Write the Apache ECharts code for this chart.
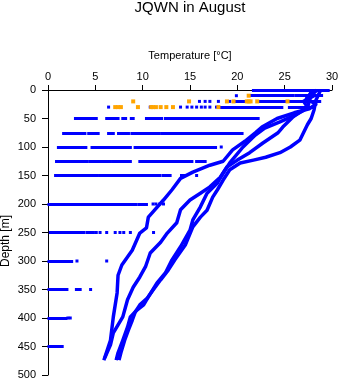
<!DOCTYPE html>
<html>
<head>
<meta charset="utf-8">
<script src="https://cdn.jsdelivr.net/npm/echarts@6/dist/echarts.min.js"></script>
<style>
html,body{margin:0;padding:0;background:#fff;}
#chart{width:341px;height:384px;}
</style>
</head>
<body>
<div id="chart"></div>
<script>
// ---- Data ----
const xTicks = [0, 5, 10, 15, 20, 25, 30];
const yTicks = [0, 50, 100, 150, 200, 250, 300, 350, 400, 450, 500];

// Standard-depth observation rows (depth in m)
const rowDepths = [0, 10, 20, 30, 50, 75, 100, 125, 150, 200, 250, 300, 350, 400, 450];
// Dense runs of observations at each row: [from °C, to °C]
const rowRuns = [
  [[21.7, 29.6]],
  [[21.4, 25.9], [26.2, 28.9]],
  [[19.9, 20.8], [22.2, 25.0], [25.4, 28.7]],
  [[18.2, 24.7], [25.5, 28.0]],
  [[2.9, 4.0], [4.2, 4.6], [4.8, 5.1], [6.2, 6.7], [6.9, 7.4], [7.9, 8.2], [8.8, 9.0], [10.4, 12.0], [12.4, 12.7], [12.9, 13.8], [14.1, 19.0], [19.2, 22.2]],
  [[1.65, 3.9], [4.3, 5.3], [6.4, 6.9], [7.45, 8.5], [8.86, 9.4], [9.6, 11.7], [12.0, 17.8], [18.1, 20.5]],
  [[1.1, 1.5], [1.65, 2.7], [2.95, 4.0], [4.65, 8.7], [9.2, 15.3], [15.5, 17.7]],
  [[0.9, 1.8], [2.0, 2.5], [2.7, 3.4], [3.6, 4.1], [4.4, 6.6], [6.9, 8.7], [9.7, 14.5], [14.7, 15.2], [15.7, 16.6]],
  [[0.8, 2.0], [2.1, 4.1], [4.3, 5.2], [5.45, 7.3], [7.55, 11.85], [12.2, 12.9]],
  [[0.1, 8.3], [8.6, 9.3], [9.6, 10.4]],
  [[0.25, 3.75], [4.1, 4.5]],
  [[0.1, 2.5]],
  [[0.1, 2.0], [3.0, 3.4]],
  [[0.1, 1.9]],
  [[0.1, 1.5]]
];
// Isolated observations at each row (°C)
const rowSingles = [
  [],
  [19.9],
  [16.0, 16.6, 17.1, 18.0, 19.2],
  [6.4, 10.8, 14.0, 14.7, 15.2, 15.7, 16.2, 16.6, 17.1, 17.8],
  [],
  [],
  [18.3],
  [],
  [14.1, 14.4, 15.7],
  [11.1, 11.4, 11.8, 12.2],
  [4.8, 5.1, 5.5, 6.2, 7.1, 7.6, 8.0, 8.7, 11.15],
  [3.06, 6.2],
  [4.5],
  [2.1, 2.35],
  []
];
// Orange (highlighted) observations
const orangeDepths = [10, 20, 30];
const orangeTemps = [
  [21.2],
  [9.0, 14.9, 18.9, 19.6, 21.0, 21.2, 21.4, 22.1, 25.3],
  [7.1, 7.4, 7.7, 9.5, 10.9, 11.1, 11.4, 11.9, 12.5, 13.2, 18.0]
];

// Continuous profiles
const depthA = [0, 15, 25, 33, 40, 50, 65, 75, 90, 105, 125, 132, 144, 155, 175, 193, 210, 223, 242, 251, 281, 307, 325, 356, 398, 439, 474];
const tempA  = [28.0, 27.3, 28.3, 27.6, 26.0, 24.2, 22.6, 21.9, 20.8, 19.5, 18.5, 17.1, 15.3, 14.0, 13.1, 12.2, 11.3, 10.6, 10.4, 9.7, 8.9, 7.8, 7.4, 7.3, 6.9, 6.6, 5.9];
const depthB = [0, 10, 20, 30, 47, 65, 75, 93, 110, 123, 135, 153, 170, 181, 193, 210, 233, 251, 267, 286, 310, 328, 346, 368, 398, 412, 426, 447, 470];
const tempB  = [27.6, 28.1, 27.0, 27.4, 25.9, 24.8, 24.3, 22.7, 21.3, 20.0, 18.9, 18.2, 17.1, 16.1, 15.0, 14.0, 13.6, 12.6, 11.9, 10.8, 10.3, 9.7, 9.0, 8.4, 7.9, 7.4, 6.9, 6.6, 6.0];
const depthC = [0, 12, 26, 36, 44, 56, 67, 79, 100, 128, 146, 163, 181, 205, 228, 246, 275, 298, 321, 339, 363, 377, 386, 398, 416, 439, 461, 474];
const tempC  = [28.4, 27.7, 27.5, 27.0, 26.1, 24.5, 22.9, 21.9, 20.6, 19.2, 18.5, 17.9, 16.8, 16.1, 15.3, 15.0, 14.0, 13.1, 12.4, 11.5, 10.6, 10.1, 9.4, 8.7, 8.4, 7.9, 7.4, 7.2];
const depthD = [0, 18, 35, 50, 61, 88, 100, 110, 118, 123, 128, 140, 158, 175, 188, 211, 223, 240, 272, 298, 316, 333, 351, 365, 377, 390, 404, 421, 439, 461, 474];
const tempD  = [28.8, 28.3, 28.1, 27.8, 27.4, 26.6, 25.6, 24.5, 23.0, 21.7, 20.3, 19.2, 18.5, 17.9, 17.4, 16.8, 16.1, 15.3, 14.5, 13.4, 12.7, 11.9, 11.1, 10.5, 9.7, 9.2, 8.9, 8.5, 8.1, 7.7, 7.5];

// ---- Build series data ----
const BLUE = '#0000ff';
const ORANGE = '#ffa500';
const FONT = '"Liberation Sans", Arial, Helvetica, sans-serif';

const runData = [];
rowDepths.forEach((d, i) => {
  rowRuns[i].forEach(r => runData.push({ coords: [[r[0], d], [r[1], d]] }));
});
const singleData = [];
rowDepths.forEach((d, i) => {
  rowSingles[i].forEach(t => singleData.push([t, d]));
});
const orangeData = [];
orangeDepths.forEach((d, i) => {
  orangeTemps[i].forEach(t => orangeData.push([t, d]));
});
const zip = (t, d) => t.map((v, i) => [v, d[i]]);
const profiles = [zip(tempA, depthA), zip(tempB, depthB), zip(tempC, depthC), zip(tempD, depthD)];

const chart = echarts.init(document.getElementById('chart'), null, { renderer: 'canvas' });
const option = {
  animation: false,
  backgroundColor: '#fff',
  textStyle: { fontFamily: FONT },
  title: {
    text: 'JQWN in August',
    left: 190,
    textAlign: 'center',
    top: 0,
    padding: 0,
    textStyle: { fontFamily: FONT, fontSize: 15, fontWeight: 'normal', color: '#000' }
  },
  graphic: [
    {
      type: 'text',
      x: 6,
      y: 241,
      rotation: Math.PI / 2,
      silent: true,
      style: { text: 'Depth [m]', font: '12px ' + FONT, fill: '#000', align: 'center', verticalAlign: 'middle' }
    }
  ],
  grid: { left: 48, right: 9, top: 90, bottom: 9, containLabel: false, outerBoundsMode: 'none' },
  xAxis: {
    type: 'value',
    position: 'top',
    min: xTicks[0],
    max: xTicks[xTicks.length - 1],
    interval: 5,
    name: 'Temperature [°C]',
    nameLocation: 'middle',
    nameGap: 29,
    nameTextStyle: { fontFamily: FONT, fontSize: 11, color: '#000' },
    axisLine: { show: true, lineStyle: { color: '#000', width: 1 } },
    axisTick: { show: true, inside: false, length: 5, lineStyle: { color: '#000', width: 1 } },
    axisLabel: { fontFamily: FONT, fontSize: 11, color: '#000', margin: 8, showMinLabel: true, showMaxLabel: true },
    splitLine: { show: false }
  },
  yAxis: {
    type: 'value',
    inverse: true,
    min: yTicks[0],
    max: yTicks[yTicks.length - 1],
    interval: 50,
    axisLine: { show: true, lineStyle: { color: '#000', width: 1 } },
    axisTick: { show: true, inside: false, length: 6, lineStyle: { color: '#000', width: 1 } },
    axisLabel: { fontFamily: FONT, fontSize: 11, color: '#000', margin: 12, showMinLabel: true, showMaxLabel: true },
    splitLine: { show: false }
  },
  series: [
    {
      type: 'lines',
      coordinateSystem: 'cartesian2d',
      polyline: false,
      silent: true,
      lineStyle: { color: BLUE, width: 3, opacity: 1, cap: 'square' },
      data: runData,
      z: 2
    },
    {
      type: 'scatter',
      symbol: 'rect',
      symbolSize: 3,
      itemStyle: { color: BLUE, opacity: 1 },
      data: singleData,
      silent: true,
      z: 2
    }
  ].concat(profiles.map(p => ({
    type: 'line',
    data: p,
    symbol: 'none',
    smooth: false,
    silent: true,
    lineStyle: { color: BLUE, width: 3.5, join: 'round' },
    z: 3
  }))).concat([
    {
      type: 'scatter',
      symbol: 'rect',
      symbolSize: 4,
      itemStyle: { color: ORANGE, opacity: 1 },
      data: orangeData,
      silent: true,
      z: 5
    }
  ])
};
chart.setOption(option);
</script>
</body>
</html>
